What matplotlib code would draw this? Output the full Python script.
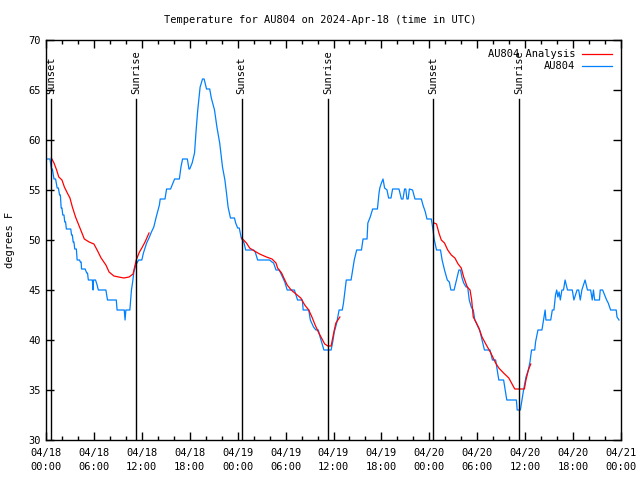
import numpy as np
import matplotlib
matplotlib.use("Agg")
import matplotlib.pyplot as plt
from matplotlib.ticker import MultipleLocator
import matplotlib.transforms as mtransforms

plt.rcParams['font.family'] = ['DejaVu Sans Mono']

# ---- data (hours since 2024-04-18 00:00 UTC, degrees F) ----
obs_hours = [0.2, 0.5, 0.67, 0.8, 1.0, 1.2, 1.4, 1.55, 1.7, 1.8, 1.9, 2.0, 2.1, 2.25, 2.35, 2.45, 2.55, 3.1, 3.2, 3.3,
             3.4, 3.5, 3.6, 3.8, 3.9, 4.2, 4.3, 4.4, 4.45, 4.9, 5.1, 5.2, 5.3, 5.8, 5.9, 5.95, 6.2, 6.4, 6.55, 7.5,
             7.7, 8.8, 8.9, 9.8, 9.9, 10.0, 10.5, 10.7, 10.85, 11.0, 11.25, 11.6, 12.0, 12.2, 12.6, 12.9, 13.2, 13.5, 13.8, 14.2,
             14.3, 14.9, 15.1, 15.6, 15.8, 16.1, 16.7, 16.9, 17.1, 17.7, 17.9, 18.0, 18.3, 18.6, 18.8, 19.0, 19.3, 19.6, 19.8, 20.1,
             20.5, 20.7, 21.1, 21.4, 21.75, 22.1, 22.4, 22.6, 22.8, 23.1, 23.6, 23.75, 24.0, 24.2, 24.45, 24.8, 25.0, 26.0, 26.2, 26.5,
             28.0, 28.3, 28.5, 28.8, 29.2, 29.5, 29.9, 30.2, 31.1, 31.3, 31.5, 32.1, 32.2, 32.9, 33.1, 33.5, 33.8, 34.1, 34.25, 34.5,
             34.8, 35.7, 35.9, 36.1, 36.4, 36.7, 37.1, 37.25, 37.4, 37.6, 38.2, 38.4, 38.6, 38.9, 39.5, 39.7, 40.2, 40.3, 40.6, 40.9,
             41.5, 41.7, 41.8, 42.0, 42.2, 42.4, 42.7, 42.9, 43.2, 43.4, 44.2, 44.5, 44.7, 44.9, 45.05, 45.2, 45.35, 45.5, 45.9, 46.2,
             47.0, 47.2, 47.5, 47.7, 48.25, 48.5, 48.6, 48.9, 49.4, 49.6, 49.9, 50.25, 50.5, 50.7, 51.1, 51.4, 51.7, 51.9, 52.1, 52.3,
             52.6, 52.8, 53.0, 53.25, 53.5, 53.7, 54.1, 54.3, 54.6, 54.9, 55.6, 55.9, 56.3, 56.5, 56.7, 57.3, 57.5, 57.7, 58.9, 59.0,
             59.4, 59.6, 59.8, 60.1, 60.4, 60.6, 60.8, 61.2, 61.3, 61.6, 62.1, 62.3, 62.5, 62.6, 63.2, 63.4, 63.6, 63.8, 63.95, 64.1,
             64.25, 64.4, 64.6, 64.8, 65.0, 65.3, 65.9, 66.1, 66.5, 66.7, 66.9, 67.1, 67.5, 67.8, 68.2, 68.4, 68.55, 68.7, 69.3, 69.4,
             69.7, 70.2, 70.4, 70.7, 71.4, 71.5, 71.75]
obs_temps = [58.1, 58.1, 57.1, 57.1, 56.1, 56.1, 55.2, 55.2, 54.5, 54.5, 53.2, 53.2, 52.5, 52.5, 51.8, 51.8, 51.1, 51.1, 50.5, 50.5,
             49.8, 49.8, 49.1, 49.1, 48.0, 48.0, 47.8, 47.8, 47.1, 47.1, 46.7, 46.7, 46.0, 46.0, 45.0, 46.0, 46.0, 45.5, 45.0, 45.0,
             44.0, 44.0, 43.0, 43.0, 42.0, 43.0, 43.0, 45.0, 45.8, 46.8, 47.5, 48.0, 48.0, 48.7, 49.7, 50.2, 50.8, 51.3, 52.3, 53.5,
             54.1, 54.1, 55.1, 55.1, 55.5, 56.1, 56.1, 57.3, 58.1, 58.1, 57.1, 57.1, 57.7, 58.7, 61.0, 63.0, 65.3, 66.1, 66.1, 65.1,
             65.1, 64.2, 63.0, 61.3, 59.7, 57.3, 56.0, 54.7, 53.3, 52.2, 52.2, 51.7, 51.2, 51.2, 50.2, 49.7, 49.0, 49.0, 48.8, 48.0,
             48.0, 47.8, 47.7, 47.0, 47.0, 46.5, 45.8, 45.0, 45.0, 44.5, 44.0, 44.0, 43.0, 43.0, 42.0, 41.3, 41.0, 41.0, 40.5, 39.8,
             39.0, 39.0, 39.8, 40.8, 41.7, 43.0, 43.0, 43.7, 44.7, 46.0, 46.0, 47.0, 48.0, 49.0, 49.0, 50.1, 50.1, 51.7, 52.3, 53.1,
             53.1, 54.7, 55.2, 55.7, 56.1, 55.2, 55.0, 54.2, 54.2, 55.1, 55.1, 54.1, 54.1, 55.1, 55.1, 54.1, 54.1, 55.1, 55.0, 54.1,
             54.1, 53.5, 52.8, 52.1, 52.1, 50.8, 50.1, 49.0, 49.0, 48.0, 47.0, 46.0, 45.8, 45.0, 45.0, 46.0, 47.0, 47.0, 46.2, 45.7,
             45.3, 45.3, 44.0, 43.3, 43.0, 42.0, 41.3, 41.0, 40.0, 39.0, 39.0, 38.0, 38.0, 37.0, 36.0, 36.0, 35.0, 34.0, 34.0, 33.0,
             33.0, 34.0, 35.0, 36.3, 37.0, 37.8, 39.0, 39.0, 39.8, 41.0, 41.0, 42.0, 43.0, 42.0, 42.0, 43.0, 43.0, 44.5, 45.0, 44.3,
             44.8, 44.0, 45.0, 45.0, 46.0, 45.0, 45.0, 44.0, 45.0, 45.0, 44.0, 45.0, 46.0, 45.0, 45.0, 44.0, 45.0, 44.0, 44.0, 45.0,
             45.0, 44.0, 43.7, 43.0, 43.0, 42.3, 42.0]

ana_hours = [0.67, 1.0, 1.33, 1.6, 2.0, 2.3, 2.67, 3.0, 3.3, 3.7, 4.1, 4.5, 4.8, 5.4, 6.0, 6.4, 6.9, 7.5, 7.9, 8.5,
             9.1, 9.75, 10.4, 10.9, 11.3, 11.7, 12.0, 12.4, 12.9, np.nan,
             24.5, 25.1, 25.5, 26.1, 26.75, 27.6, 28.3, 28.8, 29.0, 29.5, 29.9, 30.2, 30.7, 31.3, 31.9, 32.4, 32.9, 33.3, 33.7, 34.1,
             34.5, 34.9, 35.3, 35.7, 35.9, 36.1, 36.3, 36.8, np.nan,
             48.6, 48.9, 49.2, 49.5, 49.9, 50.3, 50.75, 51.2, 51.6, 52.0, 52.3, 52.75, 53.1, 53.3, 53.5, 53.9, 54.2, 54.6, 55.0, 55.7,
             56.3, 56.7, 57.3, 57.95, 58.7, 59.9, 60.1, 60.4, 60.7]
ana_temps = [58.2, 57.7, 57.0, 56.3, 56.0, 55.3, 54.7, 54.2, 53.3, 52.3, 51.5, 50.7, 50.1, 49.8, 49.6, 49.0, 48.2, 47.5, 46.8, 46.4,
             46.3, 46.2, 46.3, 46.6, 48.0, 48.8, 49.2, 49.8, 50.7, np.nan,
             50.2, 49.7, 49.2, 48.9, 48.6, 48.3, 48.1, 47.7, 47.2, 46.7, 46.0, 45.5, 45.0, 44.6, 44.2, 43.5, 43.0, 42.3, 41.5, 40.8,
             40.2, 39.6, 39.4, 39.4, 40.2, 41.0, 41.7, 42.3, np.nan,
             51.7, 51.6, 50.7, 50.0, 49.7, 49.0, 48.5, 48.2, 47.6, 47.2, 46.3, 45.3, 45.0, 44.0, 42.3, 41.7, 41.2, 40.3, 39.7, 38.7,
             37.7, 37.2, 36.7, 36.2, 35.1, 35.1, 36.0, 37.0, 37.6]

sun_hours = [0.67, 11.3, 24.5, 35.3, 48.5, 59.25]
sun_labels = ["Sunset", "Sunrise", "Sunset", "Sunrise", "Sunset", "Sunrise"]

xtick_hours = list(range(0, 73, 6))
xtick_labels = ["04/18\n00:00", "04/18\n06:00", "04/18\n12:00", "04/18\n18:00",
                "04/19\n00:00", "04/19\n06:00", "04/19\n12:00", "04/19\n18:00",
                "04/20\n00:00", "04/20\n06:00", "04/20\n12:00", "04/20\n18:00",
                "04/21\n00:00"]

title = "Temperature for AU804 on 2024-Apr-18 (time in UTC)"

# ---- figure ----
fig = plt.figure(figsize=(6.4, 4.8), dpi=100)
ax = fig.add_axes([46/640, 1-440/480, 575/640, 400/480])

fs = 7.5
ax.plot(ana_hours, ana_temps, color='#ff0000', lw=0.9, label='AU804 Analysis', zorder=3)
ax.plot(obs_hours, obs_temps, color='#0080ff', lw=0.9, label='AU804', zorder=2)

trans = mtransforms.blended_transform_factory(ax.transData, ax.transAxes)
for h, lab in zip(sun_hours, sun_labels):
    ax.plot([h, h], [0, 0.8525], color='black', lw=1.0, transform=trans, zorder=4)
    ax.text(h, 0.865, lab, rotation=90, ha='center', va='bottom', transform=trans,
            fontsize=fs, zorder=5)

ax.set_xlim(0, 72)
ax.set_ylim(30, 70)
ax.set_xticks(xtick_hours)
ax.set_xticklabels(xtick_labels, fontsize=fs, linespacing=1.5)
ax.xaxis.set_minor_locator(MultipleLocator(2))
ax.yaxis.set_major_locator(MultipleLocator(5))
ax.tick_params(axis='y', labelsize=fs)
ax.tick_params(which='both', direction='in', top=True, right=True, color='black')
ax.tick_params(which='major', length=6, width=1)
ax.tick_params(which='minor', length=3, width=1)
ax.tick_params(axis='x', pad=6)
for s in ax.spines.values():
    s.set_linewidth(1.0)

ax.set_ylabel("degrees F", fontsize=fs, labelpad=10)
fig.text(0.5, 1-20/480, title, ha='center', va='center', fontsize=fs)

leg = ax.legend(loc='upper right', frameon=False, markerfirst=False, fontsize=fs,
                handlelength=2.8, handletextpad=0.7, borderaxespad=0.5, labelspacing=0.2)

fig.savefig("out.png", dpi=100)
